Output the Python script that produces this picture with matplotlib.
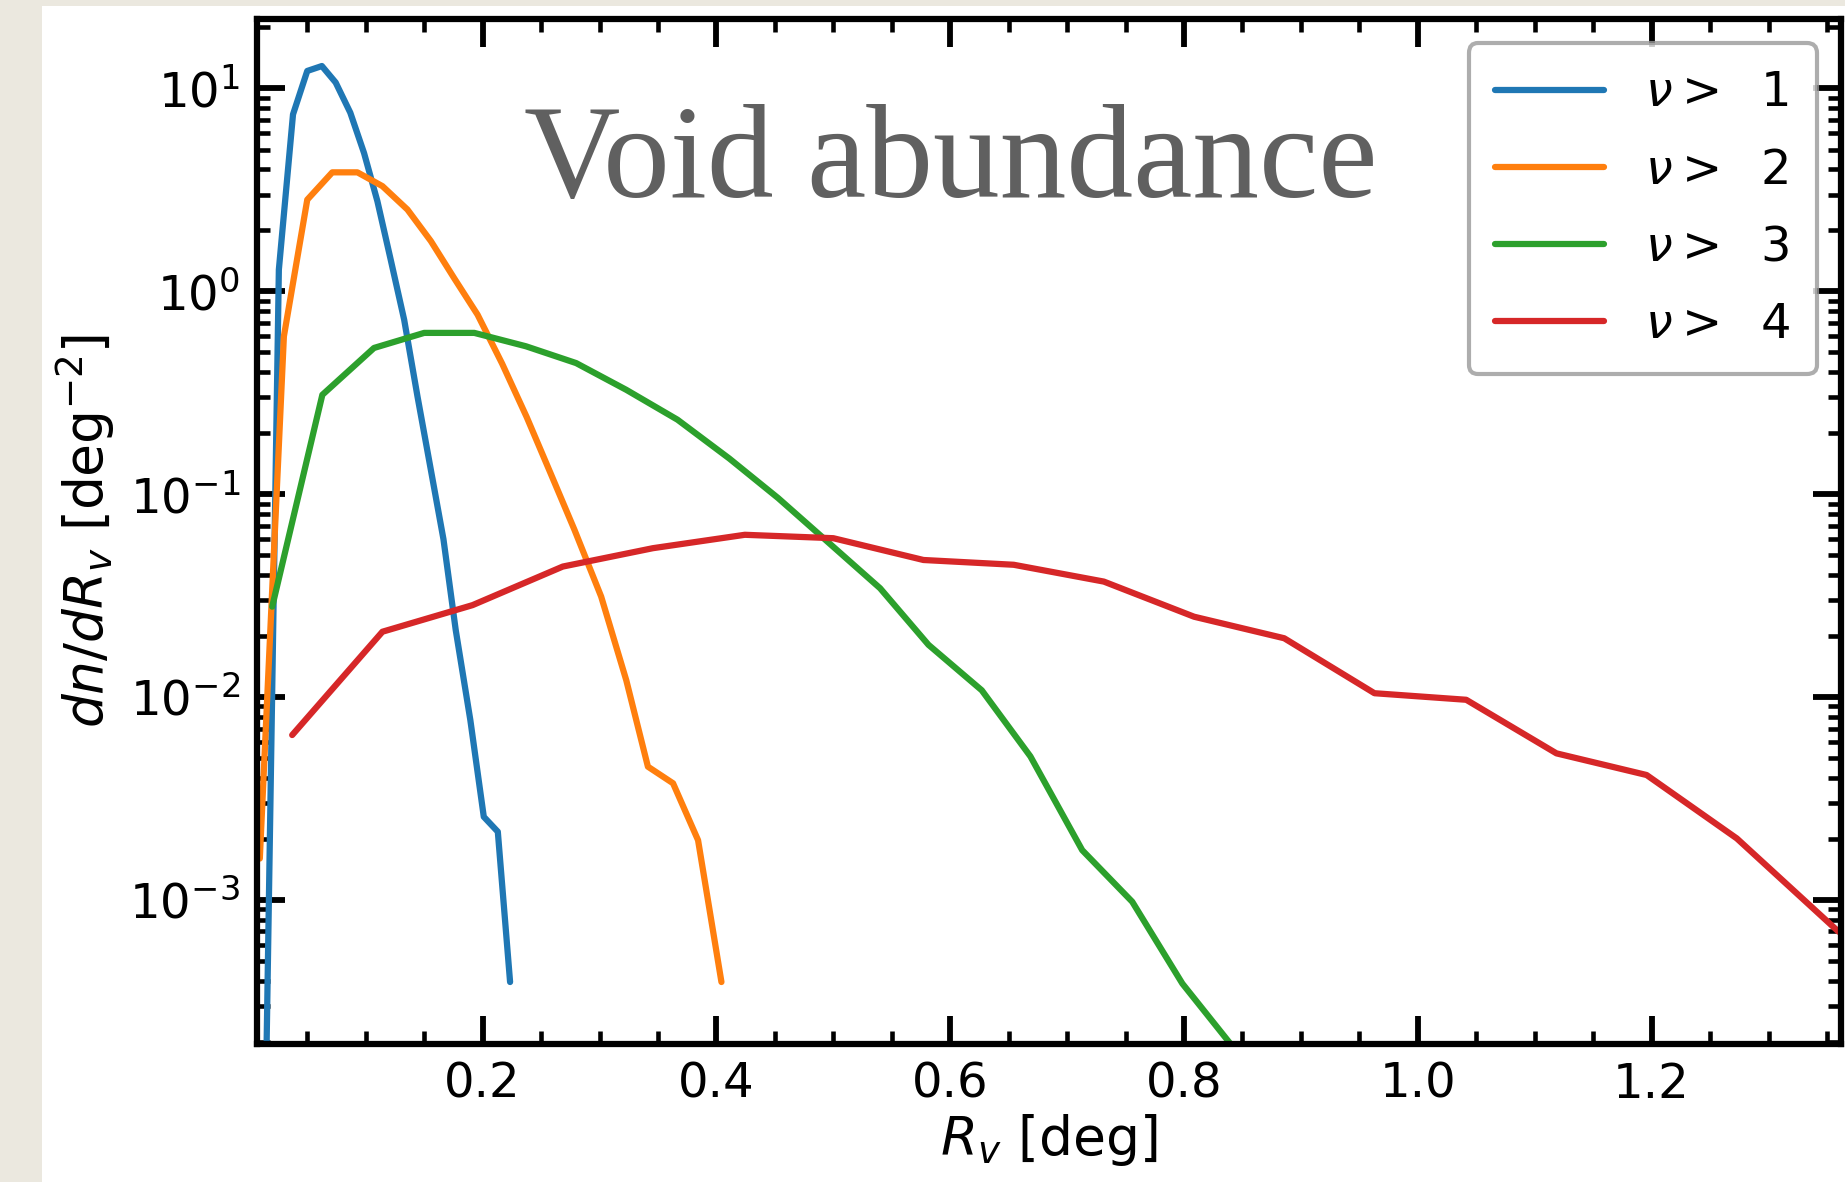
import matplotlib
matplotlib.use("Agg")
import matplotlib.pyplot as plt
from matplotlib.patches import Rectangle
from matplotlib.ticker import MultipleLocator, LogLocator, NullFormatter

# ---- data ----
blue_x = [0.0140, 0.0257, 0.0378, 0.0500, 0.0625, 0.0743, 0.0868, 0.0986, 0.1100,
          0.1214, 0.1329, 0.1443, 0.1557, 0.1665, 0.1770, 0.1895, 0.2010, 0.2130, 0.2235]
blue_y = [7e-5, 1.28, 7.45, 12.2, 12.9, 10.7, 7.6, 4.8, 2.78,
          1.43, 0.724, 0.303, 0.132, 0.060, 0.0214, 0.0077, 0.00257, 0.00217, 0.000394]

orange_x = [0.0094, 0.0300, 0.0500, 0.0714, 0.0929, 0.1143, 0.1357, 0.1557, 0.1757, 0.1957,
            0.2167, 0.2377, 0.2586, 0.2786, 0.3014, 0.3229, 0.3414, 0.3629, 0.3843, 0.4043]
orange_y = [1.6e-3, 0.60, 2.83, 3.86, 3.86, 3.30, 2.53, 1.77, 1.16, 0.767,
            0.44, 0.24, 0.125, 0.0667, 0.0313, 0.0121, 4.54e-3, 3.76e-3, 1.97e-3, 3.94e-4]

green_x = [0.0200, 0.0629, 0.1071, 0.1500, 0.1929, 0.2371, 0.2800, 0.3229, 0.3667, 0.4110,
           0.4528, 0.4970, 0.5400, 0.5814, 0.6270, 0.6686, 0.7129, 0.7557, 0.7986, 0.8414]
green_y = [0.0279, 0.309, 0.526, 0.624, 0.624, 0.536, 0.443, 0.327, 0.233, 0.150,
           0.0957, 0.057, 0.0344, 0.0181, 0.0108, 5.1e-3, 1.76e-3, 9.8e-4, 3.87e-4, 1.9e-4]

red_x = [0.0371, 0.1143, 0.1914, 0.2686, 0.3457, 0.4243, 0.5000, 0.5771, 0.6543,
         0.7314, 0.8086, 0.8857, 0.9629, 1.0414, 1.1186, 1.1957, 1.2729, 1.3600]
red_y = [6.5e-3, 0.0210, 0.0284, 0.0440, 0.0542, 0.0631, 0.0607, 0.0474, 0.0449,
         0.0371, 0.0249, 0.0195, 0.01045, 9.7e-3, 5.28e-3, 4.13e-3, 2.01e-3, 6.97e-4]

labels = [r'$\nu >$  1', r'$\nu >$  2', r'$\nu >$  3', r'$\nu >$  4']
colors = ['#1f77b4', '#ff7f0e', '#2ca02c', '#d62728']
title_text = "Void abundance"

# ---- figure ----
W, H, DPI = 1845, 1182, 300
fig = plt.figure(figsize=(W / DPI, H / DPI), dpi=DPI, facecolor='#EBE8DF')
fig.patches.append(Rectangle((42 / W, 0), 1, 1 - 6 / H, transform=fig.transFigure,
                             facecolor='white', edgecolor='none', zorder=-10))

ax = fig.add_axes([257 / W, 1 - 1044 / H, (1841 - 257) / W, (1044 - 19) / H])
ax.set_facecolor('white')
ax.set_zorder(1)

series = [(blue_x, blue_y), (orange_x, orange_y), (green_x, green_y), (red_x, red_y)]
for (xs, ys), c, lab in zip(series, colors, labels):
    ax.plot(xs, ys, color=c, lw=1.5, label=lab, solid_capstyle='round')

ax.set_yscale('log')
ax.set_xlim(0.007, 1.362)
ax.set_ylim(1.95e-4, 22)

ax.xaxis.set_major_locator(MultipleLocator(0.2))
ax.xaxis.set_minor_locator(MultipleLocator(0.05))
ax.yaxis.set_major_locator(LogLocator(base=10, numticks=20))
ax.yaxis.set_minor_locator(LogLocator(base=10, subs=range(2, 10), numticks=20))
ax.yaxis.set_minor_formatter(NullFormatter())

tick_fs = 11.6
label_fs = 12.8
leg_fs = 11.5
ax.tick_params(which='both', direction='in', top=True, right=True, labelsize=tick_fs, colors='black')
ax.tick_params(which='major', length=6.7, width=1.4, pad=4.0)
ax.tick_params(which='minor', length=3.1, width=1.1)
for sp in ax.spines.values():
    sp.set_linewidth(1.5)

ax.set_xlabel(r'$R_v$ [deg]', fontsize=label_fs, labelpad=1)
ax.set_ylabel(r'$dn/dR_v$ [deg$^{-2}$]', fontsize=label_fs, labelpad=3)

leg = ax.legend(loc='upper right', fontsize=leg_fs, handlelength=2.28, handletextpad=0.85,
                labelspacing=0.63, borderpad=0.55, borderaxespad=0.5, fancybox=True,
                framealpha=0.8)
leg.get_frame().set_edgecolor('#999999')
leg.get_frame().set_linewidth(1.0)

ax.text(524 / W, 1 - 197 / H, title_text, transform=fig.transFigure,
        family='Liberation Serif', fontsize=32, color='#606060',
        ha='left', va='baseline', zorder=5)

fig.savefig('out.png', dpi=DPI, facecolor=fig.get_facecolor())
